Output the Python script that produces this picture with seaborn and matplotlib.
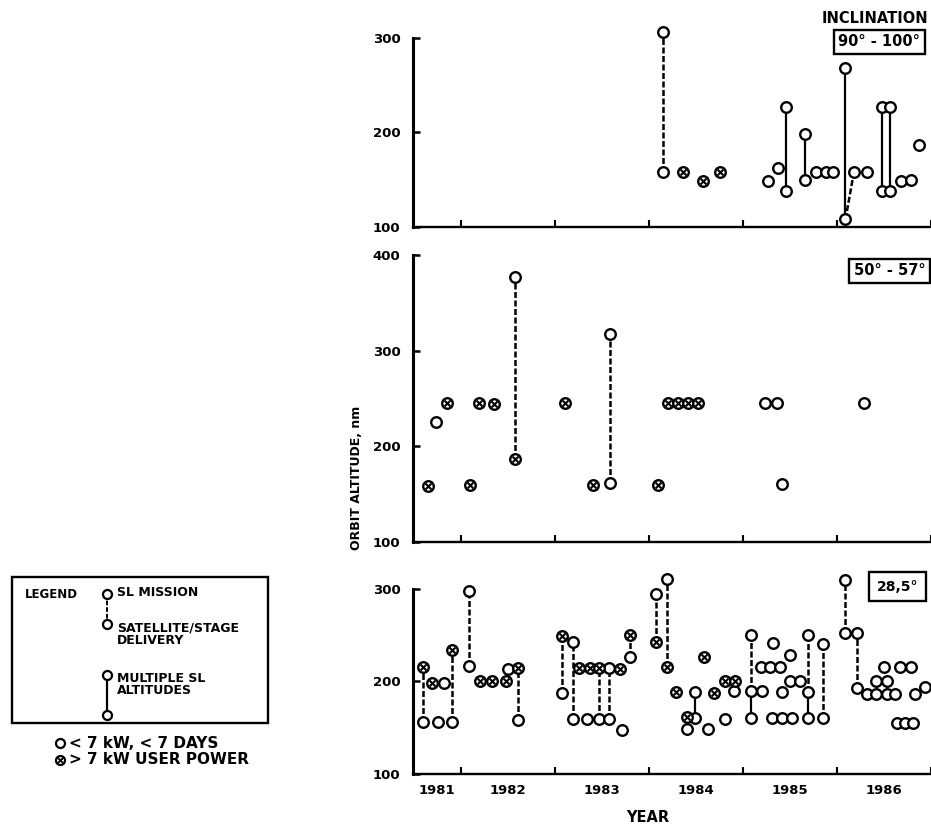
import matplotlib
matplotlib.use('Agg')
import matplotlib.pyplot as plt
import seaborn as sns
import pandas as pd
from matplotlib.ticker import FixedLocator, FixedFormatter, NullFormatter

# ------------------------------------------------------------
# Data (year as decimal, orbit altitude in nm)
# ------------------------------------------------------------

years = [1981, 1982, 1983, 1984, 1985, 1986]
year_edges = [1982, 1983, 1984, 1985, 1986, 1987]
year_label_pos = [1981.745, 1982.5, 1983.5, 1984.5, 1985.5, 1986.5]

# 90 - 100 deg inclination
top_open_year = [1984.15, 1984.15, 1985.27, 1985.37, 1985.46, 1985.46, 1985.66, 1985.66,
                 1985.78, 1985.88, 1985.96, 1986.09, 1986.09, 1986.18, 1986.32, 1986.48,
                 1986.48, 1986.56, 1986.56, 1986.68, 1986.79, 1986.87]
top_open_alt = [306, 158, 149, 162, 227, 138, 198, 150, 158, 158, 158, 268, 108, 158, 158,
                227, 138, 227, 138, 149, 150, 187]
top_cross_year = [1984.36, 1984.57, 1984.76]
top_cross_alt = [158, 149, 158]
top_dashed = [(1984.15, 158, 1984.15, 306), (1986.09, 108, 1986.18, 158)]
top_solid = [(1985.46, 138, 1985.46, 227), (1985.66, 150, 1985.66, 198),
             (1986.09, 108, 1986.09, 268), (1986.48, 138, 1986.48, 227),
             (1986.56, 138, 1986.56, 227)]

# 50 - 57 deg inclination
mid_open_year = [1981.73, 1982.58, 1983.59, 1983.59, 1985.23, 1985.36, 1985.41, 1986.29]
mid_open_alt = [225, 377, 317, 162, 245, 245, 161, 245]
mid_cross_year = [1981.65, 1981.85, 1982.10, 1982.19, 1982.35, 1982.58, 1983.11, 1983.40,
                  1984.10, 1984.20, 1984.31, 1984.41, 1984.52]
mid_cross_alt = [159, 245, 160, 245, 244, 187, 245, 160, 160, 245, 245, 245, 245]
mid_dashed = [(1982.58, 187, 1982.58, 377), (1983.59, 162, 1983.59, 317)]
mid_solid = []

# 28.5 deg inclination
bot_open_year = [1981.60, 1981.76, 1981.82, 1981.90, 1982.09, 1982.09, 1982.50, 1982.61,
                 1983.07, 1983.19, 1983.19, 1983.34, 1983.47, 1983.57, 1983.57, 1983.71,
                 1983.80, 1984.08, 1984.19, 1984.49, 1984.49, 1984.40, 1984.63, 1984.81,
                 1984.90, 1985.09, 1985.09, 1985.09, 1985.20, 1985.19, 1985.29, 1985.31,
                 1985.32, 1985.39, 1985.41, 1985.41, 1985.50, 1985.50, 1985.52, 1985.61,
                 1985.69, 1985.69, 1985.69, 1985.85, 1985.85, 1986.09, 1986.09, 1986.21,
                 1986.21, 1986.32, 1986.42, 1986.42, 1986.50, 1986.53, 1986.53, 1986.62,
                 1986.64, 1986.67, 1986.72, 1986.79, 1986.81, 1986.83, 1986.94]
bot_open_alt = [156, 156, 198, 156, 298, 217, 214, 158,
                188, 243, 159, 159, 159, 215, 159, 148,
                227, 295, 311, 189, 160, 149, 149, 159,
                190, 250, 190, 160, 190, 216, 216, 160,
                242, 216, 189, 160, 229, 201, 160, 201,
                250, 189, 160, 241, 160, 310, 252, 252,
                193, 187, 200, 187, 216, 200, 187, 187,
                155, 216, 155, 216, 155, 187, 194]
bot_cross_year = [1981.60, 1981.69, 1981.90, 1982.20, 1982.33, 1982.48, 1982.61, 1983.07,
                  1983.26, 1983.37, 1983.47, 1983.69, 1983.80, 1984.08, 1984.19, 1984.29,
                  1984.40, 1984.59, 1984.69, 1984.81, 1984.91]
bot_cross_alt = [216, 198, 234, 200, 200, 200, 215, 249, 215, 215, 215, 214, 250, 243,
                 216, 189, 162, 227, 188, 201, 201]
bot_dashed = [(1981.60, 156, 1981.60, 216), (1981.90, 156, 1981.90, 234),
              (1982.09, 217, 1982.09, 298), (1982.61, 158, 1982.61, 215),
              (1983.07, 188, 1983.07, 249), (1983.19, 159, 1983.19, 243),
              (1983.47, 159, 1983.47, 215), (1983.57, 159, 1983.57, 215),
              (1983.80, 227, 1983.80, 250), (1984.08, 243, 1984.08, 295),
              (1984.19, 216, 1984.19, 311), (1985.09, 190, 1985.09, 250),
              (1985.69, 189, 1985.69, 250), (1985.85, 160, 1985.85, 241),
              (1986.09, 252, 1986.09, 310), (1986.21, 193, 1986.21, 252)]
bot_solid = [(1984.49, 160, 1984.49, 189), (1985.09, 160, 1985.09, 190),
             (1985.69, 160, 1985.69, 189)]

# ------------------------------------------------------------
# Style
# ------------------------------------------------------------

sns.set_style('white')
plt.rcParams['font.family'] = ['DejaVu Sans']
plt.rcParams['font.weight'] = 'bold'
for key in ['text.color', 'axes.labelcolor', 'xtick.color', 'ytick.color', 'axes.edgecolor']:
    plt.rcParams[key] = 'black'

DASH = (0, (2.4, 1.0))
MS = 58
MEW = 1.7


def draw_panel(ax, open_x, open_y, cross_x, cross_y, dashed, solid, yticks, show_years):
    for x0, y0, x1, y1 in dashed:
        ax.plot([x0, x1], [y0, y1], color='black', lw=1.8, ls=DASH, zorder=2, clip_on=False)
    for x0, y0, x1, y1 in solid:
        ax.plot([x0, x1], [y0, y1], color='black', lw=1.6, zorder=2, clip_on=False)

    df_open = pd.DataFrame({'year': open_x, 'alt': open_y})
    df_cross = pd.DataFrame({'year': cross_x, 'alt': cross_y})
    sns.scatterplot(data=df_open, x='year', y='alt', ax=ax, marker='o', s=MS,
                    facecolor='white', edgecolor='black', linewidth=MEW,
                    zorder=3, clip_on=False)
    sns.scatterplot(data=df_cross, x='year', y='alt', ax=ax, marker='o', s=MS,
                    facecolor='white', edgecolor='black', linewidth=MEW,
                    zorder=3, clip_on=False)
    sns.scatterplot(data=df_cross, x='year', y='alt', ax=ax, marker='x', s=18,
                    color='black', linewidth=1.5, zorder=4, clip_on=False)

    ax.set_xlim(1981.49, 1987.0)
    ax.set_ylim(yticks[0], yticks[-1])
    ax.set_xlabel('')
    ax.set_ylabel('')
    sns.despine(ax=ax)
    ax.spines['left'].set_linewidth(2.2)
    ax.spines['bottom'].set_linewidth(1.7)
    ax.set_yticks(yticks)
    ax.set_yticklabels([str(t) for t in yticks])
    ax.xaxis.set_major_locator(FixedLocator(year_edges))
    ax.xaxis.set_major_formatter(NullFormatter())
    ax.xaxis.set_minor_locator(FixedLocator(year_label_pos))
    if show_years:
        ax.xaxis.set_minor_formatter(FixedFormatter([str(y) for y in years]))
    else:
        ax.xaxis.set_minor_formatter(NullFormatter())
    ax.tick_params(axis='x', which='major', direction='in', length=5, width=1.5, bottom=True)
    ax.tick_params(axis='x', which='minor', length=0, pad=7, labelsize=9.5)
    ax.tick_params(axis='y', direction='in', length=5, width=1.8, pad=9, labelsize=9.5, left=True)
    ax.set_facecolor('white')


fig = plt.figure(figsize=(9.31, 8.24), dpi=100)

ax_top = fig.add_axes([0.4436, 0.7245, 0.5564, 0.2297])
ax_mid = fig.add_axes([0.4436, 0.3422, 0.5564, 0.3483])
ax_bot = fig.add_axes([0.4436, 0.0607, 0.5564, 0.2245])

draw_panel(ax_top, top_open_year, top_open_alt, top_cross_year, top_cross_alt,
           top_dashed, top_solid, [100, 200, 300], False)
draw_panel(ax_mid, mid_open_year, mid_open_alt, mid_cross_year, mid_cross_alt,
           mid_dashed, mid_solid, [100, 200, 300, 400], False)
draw_panel(ax_bot, bot_open_year, bot_open_alt, bot_cross_year, bot_cross_alt,
           bot_dashed, bot_solid, [100, 200, 300], True)

box = dict(boxstyle='square,pad=0.3', fc='white', ec='black', lw=1.7)
ax_top.text(0.995, 1.10, 'INCLINATION', transform=ax_top.transAxes, ha='right',
            va='center', fontsize=10.5, fontweight='bold')
ax_top.text(0.90, 0.979, '90° - 100°', transform=ax_top.transAxes, ha='center',
            va='center', fontsize=10.5, fontweight='bold', bbox=box)
ax_mid.text(0.92, 0.945, '50° - 57°', transform=ax_mid.transAxes, ha='center',
            va='center', fontsize=10.5, fontweight='bold', bbox=box)
ax_bot.text(0.935, 1.012, '28,5°', transform=ax_bot.transAxes, ha='center',
            va='center', fontsize=10, fontweight='bold',
            bbox=dict(boxstyle='square,pad=0.55', fc='white', ec='black', lw=1.7))

fig.text(357 / 931, 1 - 478 / 824, 'ORBIT ALTITUDE, nm', rotation=90, ha='center',
         va='center', fontsize=9, fontweight='bold')
fig.text(648 / 931, 1 - 817 / 824, 'YEAR', ha='center', va='center',
         fontsize=10.5, fontweight='bold')

# ------------------------------------------------------------
# Legend block (drawn in its own pixel-like frame)
# ------------------------------------------------------------

lg = fig.add_axes([0, 1 - 780 / 824, 300 / 931, 210 / 824])
lg.set_xlim(0, 300)
lg.set_ylim(780, 570)
lg.axis('off')
lg.add_patch(plt.Rectangle((12, 577), 256, 146, fill=False, ec='black', lw=1.7))
lg.text(25, 594, 'LEGEND', ha='left', va='center', fontsize=8.5, fontweight='bold')
lg.plot([107, 107], [594, 624], color='black', lw=1.4, ls=DASH, zorder=2)
lg.plot([107, 107], [675, 715], color='black', lw=1.6, zorder=2)
lg.scatter([107, 107, 107, 107], [594, 624, 675, 715], s=42, facecolor='white',
           edgecolor='black', linewidth=1.6, zorder=3)
for tx, ty in [('SL MISSION', 593), ('SATELLITE/STAGE', 628), ('DELIVERY', 641),
               ('MULTIPLE SL', 678), ('ALTITUDES', 691)]:
    lg.text(117, ty, tx, ha='left', va='center', fontsize=9, fontweight='bold')
lg.scatter([60, 60], [743, 760], s=42, facecolor='white', edgecolor='black',
           linewidth=1.6, zorder=3)
lg.scatter([60], [760], s=14, marker='x', color='black', linewidth=1.3, zorder=4)
lg.text(69, 743, '< 7 kW, < 7 DAYS', ha='left', va='center', fontsize=11, fontweight='bold')
lg.text(69, 760, '> 7 kW USER POWER', ha='left', va='center', fontsize=11, fontweight='bold')

fig.savefig('out.png', dpi=100, facecolor='white')
